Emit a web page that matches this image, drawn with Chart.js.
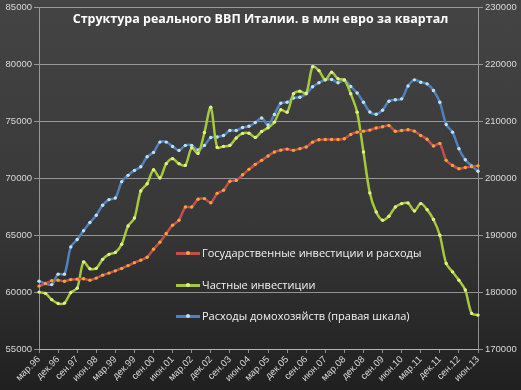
<!DOCTYPE html>
<html>
<head>
<meta charset="utf-8">
<script src="https://cdn.jsdelivr.net/npm/chart.js@4.4.0/dist/chart.umd.min.js"></script>
<style>
  html, body { margin: 0; padding: 0; }
  body { width: 521px; height: 390px; overflow: hidden; }
  #wrap { position: relative; width: 521px; height: 390px;
          background: linear-gradient(to bottom, #444444 0%, #383838 55%, #202020 100%); }
  canvas { position: absolute; left: 0; top: 0; }
  #title { position: absolute; left: 0; width: 521px; top: 10px; text-align: center;
           font-family: "Open Sans", sans-serif; font-weight: bold; font-size: 12.5px; color: #ffffff; }
  .leg { position: absolute; left: 176px; height: 14px; font-family: "Open Sans", sans-serif;
         font-size: 11px; color: #f2f2f2; white-space: nowrap; }
  .leg .ln { position: absolute; left: 0; top: 6px; width: 24px; height: 3px; }
  .leg .dot { position: absolute; left: 10px; top: 5px; width: 4px; height: 4px; border-radius: 2px; }
  .leg .tx { position: absolute; left: 26px; top: -1px; }
</style>
</head>
<body>
<div id="wrap">
  <canvas id="c" width="521" height="390"></canvas>
  <div id="title">Структура реального ВВП Италии. в млн евро за квартал</div>
  <div class="leg" style="top:246px"><div class="ln" style="background:#c0504d"></div><div class="dot" style="background:#f5a43a"></div><div class="tx">Государственные инвестиции и расходы</div></div>
  <div class="leg" style="top:278px"><div class="ln" style="background:#a4c93c"></div><div class="dot" style="background:#e2f08a"></div><div class="tx">Частные инвестиции</div></div>
  <div class="leg" style="top:309px"><div class="ln" style="background:#4f81bd"></div><div class="dot" style="background:#bfe3ee"></div><div class="tx">Расходы домохозяйств (правая шкала)</div></div>
</div>
<script>
const quarters = [
  "мар.96","июн.96","сен.96","дек.96","мар.97","июн.97","сен.97","дек.97",
  "мар.98","июн.98","сен.98","дек.98","мар.99","июн.99","сен.99","дек.99",
  "мар.00","июн.00","сен.00","дек.00","мар.01","июн.01","сен.01","дек.01",
  "мар.02","июн.02","сен.02","дек.02","мар.03","июн.03","сен.03","дек.03",
  "мар.04","июн.04","сен.04","дек.04","мар.05","июн.05","сен.05","дек.05",
  "мар.06","июн.06","сен.06","дек.06","мар.07","июн.07","сен.07","дек.07",
  "мар.08","июн.08","сен.08","дек.08","мар.09","июн.09","сен.09","дек.09",
  "мар.10","июн.10","сен.10","дек.10","мар.11","июн.11","сен.11","дек.11",
  "мар.12","июн.12","сен.12","дек.12","мар.13","июн.13"
];

const govSpending = [
  60530,60750,61010,61050,60960,61100,61140,61180,61050,61230,
  61490,61670,61870,62080,62330,62590,62810,63070,63770,64390,
  65150,65880,66320,67480,67480,68160,68220,67850,68680,68950,
  69740,69820,70310,70790,71230,71580,71970,72310,72480,72570,
  72460,72610,72760,73180,73390,73420,73420,73420,73480,73860,
  74060,74150,74240,74430,74530,74650,74140,74210,74270,74150,
  73770,73440,72850,73070,71580,71140,70850,70950,71030,71100
];

const privateInvestment = [
  60000,59890,59340,59000,59030,59960,60350,62660,62050,62090,
  62880,63320,63490,64210,65810,66510,68890,69530,70750,70030,
  71290,71730,71290,71140,72680,72190,74030,76250,72720,72810,
  72900,73550,73950,73970,73600,74120,74450,74940,76030,75820,
  77430,77660,77480,79820,79470,78660,79320,78750,78660,77430,
  75820,72310,68710,67040,66320,66670,67480,67780,67830,67130,
  67780,67250,66380,65000,62520,61780,61050,60180,58130,57980
];

const householdSpending = [
  181930,181530,181320,183160,183160,187950,189250,190790,192230,193510,
  195260,196260,196540,199420,200530,201400,202050,203810,204560,206370,
  206370,205610,204910,205790,205790,205000,205790,207190,207280,207540,
  208420,208420,208950,209160,209820,210610,209390,211230,213210,213390,
  214120,214260,214860,216090,216810,217320,217370,216810,217250,216140,
  215000,213370,211670,211280,211980,213560,213810,213980,216230,217320,
  216900,216610,215440,213390,209470,208120,205210,203280,202190,201260
];

const leftTicks = { min: 55000, max: 85000, step: 5000 };
const rightTicks = { min: 170000, max: 230000, step: 10000 };

const gridColor = 'rgba(200,200,200,0.65)';
const tickFont = { family: "'Liberation Sans', Arial, sans-serif", size: 9.5 };
const tickColor = '#d9d9d9';
const plainNumber = v => String(v);

new Chart(document.getElementById('c'), {
  type: 'line',
  data: {
    labels: quarters,
    datasets: [
      { label: 'Государственные инвестиции и расходы', data: govSpending, yAxisID: 'y',
        borderColor: '#c0504d', borderWidth: 2.5, pointBackgroundColor: '#f5a43a', pointBorderWidth: 0,
        pointRadius: 1.7, tension: 0.2 },
      { label: 'Частные инвестиции', data: privateInvestment, yAxisID: 'y',
        borderColor: '#a4c93c', borderWidth: 2.5, pointBackgroundColor: '#e2f08a', pointBorderWidth: 0,
        pointRadius: 1.7, tension: 0.3 },
      { label: 'Расходы домохозяйств (правая шкала)', data: householdSpending, yAxisID: 'y1',
        borderColor: '#4f81bd', borderWidth: 2.5, pointBackgroundColor: '#bfe3ee', pointBorderWidth: 0,
        pointRadius: 1.7, tension: 0.3 }
    ]
  },
  options: {
    responsive: false,
    animation: false,
    devicePixelRatio: 1,
    layout: { padding: { top: 7, left: 0, right: 0, bottom: 0 } },
    plugins: { legend: { display: false }, title: { display: false }, tooltip: { enabled: false } },
    scales: {
      x: {
        type: 'category',
        offset: false,
        afterFit: s => { s.height = 41; },
        grid: { drawOnChartArea: false, drawTicks: true, tickLength: 4,
                tickColor: c => (c.index % 3 === 0 ? gridColor : 'rgba(0,0,0,0)') },
        border: { color: gridColor },
        ticks: { autoSkip: false, maxRotation: 45, minRotation: 45, padding: 1,
                 color: tickColor, font: tickFont,
                 callback: (v, i) => (i % 3 === 0 ? quarters[i] : '') }
      },
      y: {
        position: 'left',
        min: leftTicks.min, max: leftTicks.max,
        afterFit: s => { s.width = 39; },
        grid: { color: gridColor, tickLength: 5, lineWidth: 1 },
        border: { color: gridColor },
        ticks: { stepSize: leftTicks.step, color: tickColor, font: tickFont, padding: 2, callback: plainNumber }
      },
      y1: {
        position: 'right',
        min: rightTicks.min, max: rightTicks.max,
        afterFit: s => { s.width = 43; },
        grid: { drawOnChartArea: false, color: gridColor, tickLength: 5 },
        border: { color: gridColor },
        ticks: { stepSize: rightTicks.step, color: tickColor, font: tickFont, padding: 2, callback: plainNumber }
      }
    }
  }
});
</script>
</body>
</html>
